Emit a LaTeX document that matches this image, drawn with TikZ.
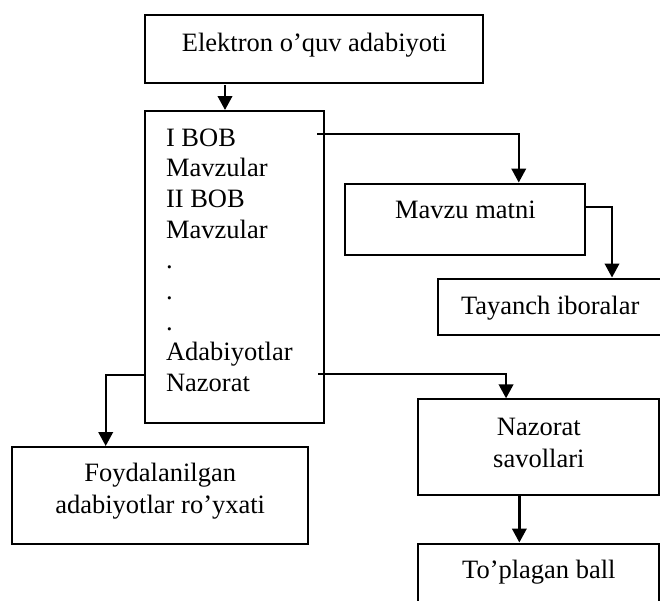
\documentclass[tikz,border=0pt]{standalone}
\usepackage{fontspec}
\setmainfont{Liberation Serif}
\usetikzlibrary{arrows.meta}
\begin{document}
\begin{tikzpicture}[x=1pt,y=-1pt,
  font=\fontsize{26.5}{32.5}\selectfont,
  box/.style={draw, line width=2.1pt, inner sep=0pt, anchor=north west, align=center},
  arr/.style={line width=2.3pt, -{Triangle[length=14pt,width=14.5pt]}}]
\useasboundingbox (0,0) rectangle (660,600);
\clip (0,0) rectangle (660,600);

\node[box, minimum width=338pt, text height=36.3pt, text depth=31.7pt] (top) at (144.3,14.2) {Elektron o’quv adabiyoti};
\node[box, minimum width=179pt, text height=35pt, text depth=276.7pt, font=\fontsize{26.5}{30.7}\selectfont] (main) at (144.3,110)
  {\makebox[179pt][l]{\hspace{20.7pt}\begin{tabular}[t]{@{}l@{}}I BOB\\ Mavzular\\ II BOB\\ Mavzular\\ .\\ .\\ .\\ Adabiyotlar\\ Nazorat\end{tabular}}};
\node[box, minimum width=240pt, text height=34.5pt, text depth=37pt] (mavzu) at (344.3,182.5) {Mavzu matni};
\node[box, minimum width=223.7pt, text height=35.5pt, text depth=20.5pt] (tayanch) at (437.3,277.5) {Tayanch iboralar};
\node[box, minimum width=296.3pt, text height=34pt, text depth=62.7pt] (foyda) at (11,446)
  {\begin{tabular}[t]{@{}c@{}}Foydalanilgan\\ adabiyotlar ro’yxati\end{tabular}};
\node[box, minimum width=241pt, text height=35.7pt, text depth=60.3pt] (nazorat) at (417.3,398.3)
  {\begin{tabular}[t]{@{}c@{}}Nazorat\\ savollari\end{tabular}};
\node[box, minimum width=241pt, text height=34.5pt, text depth=60pt] (toplagan) at (417.3,542.5) {To’plagan ball};

\coordinate (a1) at (225,85);
\coordinate (a2) at (317,134);
\coordinate (a5) at (318,374);

\draw[arr] (a1) -- (a1 |- main.north);
\draw[arr] (a2) -| ([xshift=53.4pt]mavzu.north);
\draw[arr] ([yshift=12.5pt]mavzu.east) -| ([xshift=61.8pt]tayanch.north);
\draw[arr] ([yshift=-108.2pt]main.west) -| ([xshift=-54.5pt]foyda.north);
\draw[arr] (a5) -| ([xshift=-32.8pt]nazorat.north);
\draw[arr] ([xshift=-19.5pt]nazorat.south) -- ([xshift=-19.5pt]toplagan.north);
\end{tikzpicture}
\end{document}
